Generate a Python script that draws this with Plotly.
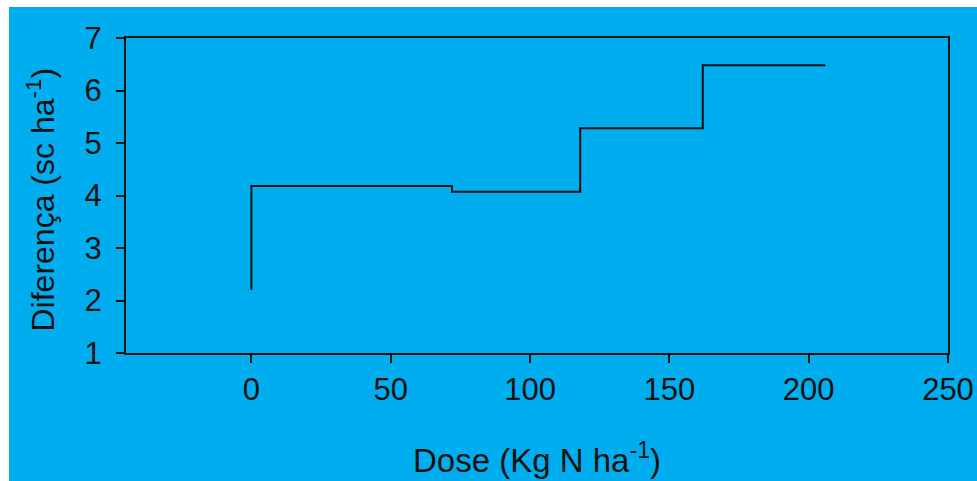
import plotly.graph_objects as go

# Step data (Dose in Kg N/ha, Diferença in sc/ha)
dose = [0, 0, 72, 118, 162, 206]
diferenca = [2.2, 4.18, 4.07, 5.28, 6.48, 6.48]

x_ticks = [0, 50, 100, 150, 200, 250]
y_ticks = [1, 2, 3, 4, 5, 6, 7]

x_title = "Dose (Kg N ha<sup>-1</sup>)"
y_title = "Diferença (sc ha<sup>-1</sup>)"

BLUE = "#00AEEF"
INK = "#111111"
FONT = "Liberation Sans, Arial, sans-serif"

# page offset of the figure (white strip at top / left)
OFF_T, OFF_L = 7, 9
W, H = 977 - OFF_L, 481 - OFF_T + 4
L, R, T = 117, 29, 31
ph = 315
B = H - T - ph
pw = W - L - R

def fx(px):  # figure pixel x -> paper x
    return (px - L) / pw

def fy(py):  # figure pixel y -> paper y
    return (T + ph - py) / ph

fig = go.Figure()
fig.add_trace(go.Scatter(
    x=dose, y=diferenca, mode="lines", line_shape="hv",
    line=dict(color=INK, width=2), showlegend=False, hoverinfo="skip",
))

fig.add_annotation(
    text=x_title, xref="paper", yref="paper", x=0.5, y=fy(451),
    showarrow=False, xanchor="center", yanchor="middle",
    font=dict(size=33, family=FONT, color=INK),
)
fig.add_annotation(
    text=y_title, xref="paper", yref="paper", x=fx(31), y=fy(192.5),
    showarrow=False, xanchor="center", yanchor="middle", textangle=-90,
    font=dict(size=32, family=FONT, color=INK),
)

fig.update_layout(
    width=W, height=H,
    margin=dict(l=L, r=R, t=T, b=B),
    paper_bgcolor=BLUE, plot_bgcolor=BLUE,
    font=dict(family=FONT, color=INK),
    xaxis=dict(
        range=[-45, 250], tickvals=x_ticks, ticktext=[str(v) for v in x_ticks],
        showgrid=False, zeroline=False, showline=True, linecolor=INK, linewidth=2,
        mirror=True, ticks="outside", ticklen=8, tickwidth=2, tickcolor=INK,
        tickfont=dict(size=31, family=FONT, color=INK), automargin=False,
    ),
    yaxis=dict(
        range=[1, 7], tickvals=y_ticks, ticktext=[str(v) for v in y_ticks],
        showgrid=False, zeroline=False, showline=True, linecolor=INK, linewidth=2,
        mirror=True, ticks="outside", ticklen=8, tickwidth=2, tickcolor=INK,
        tickfont=dict(size=31, family=FONT, color=INK),
        ticklabelstandoff=8, automargin=False,
    ),
)

post = (
    "document.body.style.margin='%dpx 0 0 %dpx';"
    "document.body.style.overflow='hidden';"
    "document.documentElement.style.overflow='hidden';" % (OFF_T, OFF_L)
)
fig.write_html("out.html", post_script=post, config={"responsive": False})
